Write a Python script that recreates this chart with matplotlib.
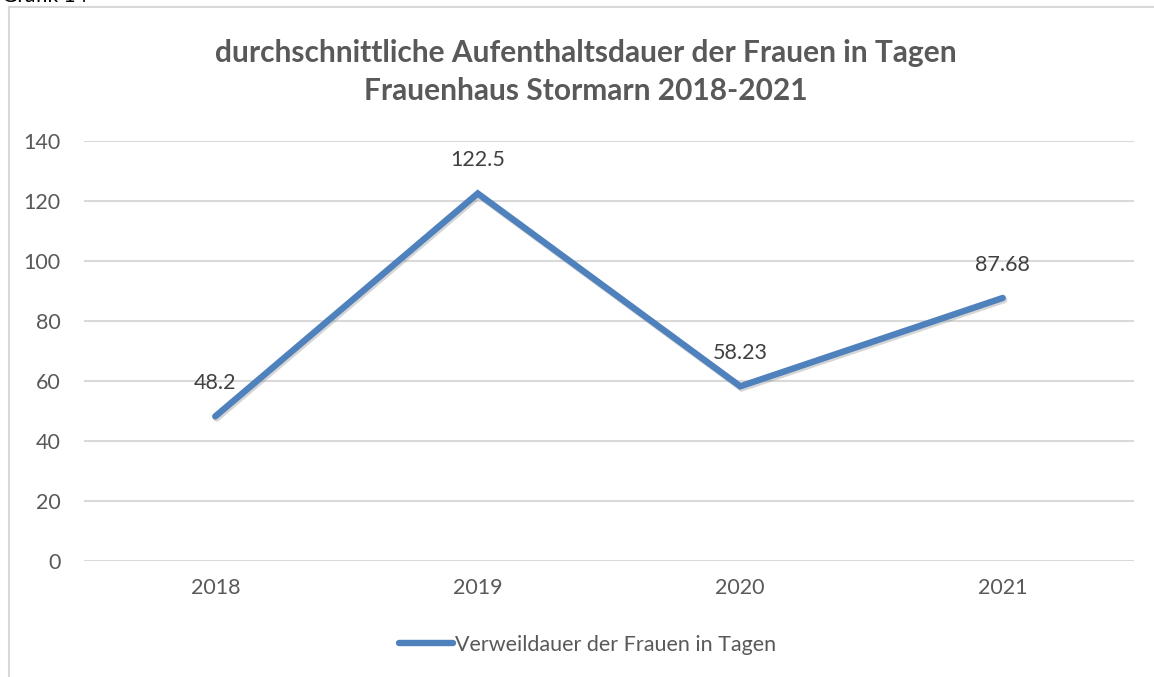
# Verweildauer chart, Frauenhaus Stormarn
import matplotlib
matplotlib.use("Agg")
import matplotlib.pyplot as plt
import matplotlib.patheffects as pe
from matplotlib.lines import Line2D

# Data
years = ["2018", "2019", "2020", "2021"]
days = [48.2, 122.5, 58.23, 87.68]
day_labels = ["48.2", "122.5", "58.23", "87.68"]
yticks = [0, 20, 40, 60, 80, 100, 120, 140]
series_name = "Verweildauer der Frauen in Tagen"
title = "durchschnittliche Aufenthaltsdauer der Frauen in Tagen\nFrauenhaus Stormarn 2018-2021"

plt.rcParams['font.family'] = ['Lato', 'DejaVu Sans']

W, H = 1154, 677
fig = plt.figure(figsize=(W / 100, H / 100), dpi=100)
ax = fig.add_axes([84 / W, 1 - 561 / H, (1134 - 84) / W, (561 - 141) / H])

blue = "#4F81BD"
grey = "#595959"
grid = "#D9D9D9"
fs = 15.5

x = list(range(len(years)))
ax.plot(x, days, color=blue, lw=4.6, solid_capstyle="round", solid_joinstyle="miter",
        path_effects=[pe.SimpleLineShadow(offset=(1, -1.5), shadow_color="#888888", alpha=0.35),
                      pe.Normal()], zorder=3)

for xi, v, lab in zip(x, days, day_labels):
    ax.annotate(lab, (xi, v), xytext=(0, 24), textcoords="offset points",
                ha="center", va="center", fontsize=fs, color="#404040")

ax.set_xlim(-0.5, len(years) - 0.5)
ax.set_ylim(0, 140)
ax.set_xticks(x)
ax.set_xticklabels(years)
ax.set_yticks(yticks)
ax.tick_params(axis="both", length=0, labelsize=fs, labelcolor=grey)
ax.tick_params(axis="x", pad=12)
ax.tick_params(axis="y", pad=17)
ax.yaxis.grid(True, color=grid, lw=1.5)
ax.set_axisbelow(True)
for s in ax.spines.values():
    s.set_visible(False)

fig.text(586 / W, 1 - 72 / H, title, ha="center", va="center", fontsize=21.5,
         fontweight="bold", color=grey, linespacing=1.42)

# caption, cut at the top edge as in the source image
fig.text(2 / W, 1 - 2 / H, "Grafik 14", ha="left", va="baseline", fontsize=15, color="#000000")

# chart border (cropped)
fig.add_artist(Line2D([9 / W, 9 / W], [0, 1 - 7 / H], color=grid, lw=1.5))
fig.add_artist(Line2D([9 / W, 1], [1 - 7 / H, 1 - 7 / H], color=grid, lw=1.5))

handle = Line2D([], [], color=blue, lw=4.6, solid_capstyle="round")
fig.legend([handle], [series_name], loc="center", bbox_to_anchor=(588 / W, 1 - 645 / H),
           frameon=False, fontsize=fs, labelcolor=grey, handlelength=2.5, handletextpad=0.1)

fig.savefig("out.png", dpi=100)
